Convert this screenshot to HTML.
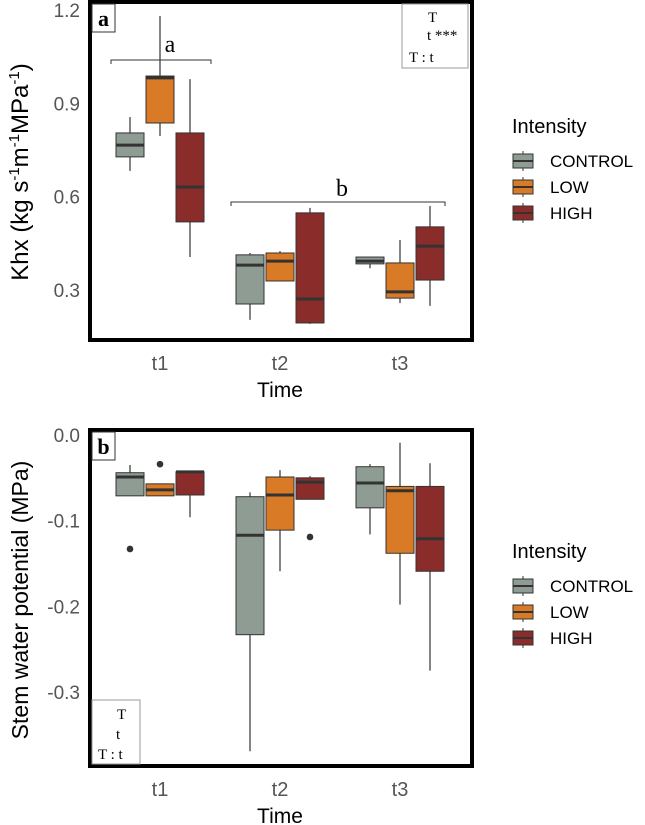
<!DOCTYPE html>
<html><head><meta charset="utf-8"><style>
body{margin:0;background:#fff}
svg{display:block;font-family:"Liberation Sans",sans-serif}
</style></head><body>
<svg id="chart" width="645" height="825" viewBox="0 0 645 825"></svg>
<script>
const categories=["t1","t2","t3"];
const groups=["CONTROL","LOW","HIGH"];
const colors=["#8e9c93","#d97b26","#8a2d2a"];
// [min,q1,median,q3,max] per category per group
const khxStats=[
 [[0.683,0.728,0.766,0.805,0.856],[0.795,0.837,0.982,0.988,1.181],[0.406,0.519,0.631,0.805,0.978]],
 [[0.204,0.255,0.380,0.413,0.419],[0.329,0.329,0.393,0.419,0.425],[0.191,0.194,0.271,0.548,0.564]],
 [[0.370,0.384,0.393,0.406,0.406],[0.258,0.274,0.294,0.387,0.461],[0.249,0.332,0.441,0.503,0.570]]
];
const khxOutliers=[[[],[],[]],[[],[],[]],[[],[],[]]];
const swpStats=[
 [[-0.071,-0.071,-0.049,-0.044,-0.035],[-0.071,-0.071,-0.064,-0.057,-0.057],[-0.096,-0.070,-0.043,-0.043,-0.043]],
 [[-0.369,-0.233,-0.117,-0.072,-0.067],[-0.159,-0.111,-0.070,-0.049,-0.041],[-0.075,-0.075,-0.055,-0.050,-0.048]],
 [[-0.116,-0.085,-0.056,-0.037,-0.034],[-0.198,-0.138,-0.065,-0.060,-0.009],[-0.275,-0.159,-0.121,-0.060,-0.033]]
];
const swpOutliers=[[[-0.133],[-0.034],[]],[[],[],[-0.119]],[[],[],[]]];
const khxTicks=[0.3,0.6,0.9,1.2];
const swpTicks=[0.0,-0.1,-0.2,-0.3];

const svg=document.getElementById('chart');
const NS="http://www.w3.org/2000/svg";
function mk(tag,attrs,parent,text){const e=document.createElementNS(NS,tag);for(const k in attrs)e.setAttribute(k,attrs[k]);if(text!==undefined)e.textContent=text;(parent||svg).appendChild(e);return e;}
function xScale(ci,gi){return 160+ci*120+(gi-1)*30;}

function panel(o){
  const g=mk('g',{});
  
  
  const y=v=>o.y0-(v-o.v0)*o.k;
  o.ticks.forEach(t=>{
    const tx=mk('text',{x:80,y:y(t)+7,'text-anchor':'end','font-size':19,fill:'#555'},g,t.toFixed(1));
    
    
  });
  categories.forEach((c,ci)=>{
    const tx=mk('text',{x:xScale(ci,1),y:o.bottom+30,'text-anchor':'middle','font-size':20,fill:'#555'},g,c);
    
    
    groups.forEach((gr,gi)=>{
      const s=o.stats[ci][gi];const cx=xScale(ci,gi);
      const bg=mk('g',{},g);
      
      
      mk('line',{x1:cx,x2:cx,y1:y(s[4]),y2:y(s[0]),stroke:'#333','stroke-width':1.2},bg);
      mk('rect',{x:cx-14,y:y(s[3]),width:28,height:Math.max(1,y(s[1])-y(s[3])),fill:colors[gi],stroke:'#333','stroke-width':1},bg);
      mk('line',{x1:cx-14,x2:cx+14,y1:y(s[2]),y2:y(s[2]),stroke:'#333','stroke-width':3},bg);
      o.outl[ci][gi].forEach(v=>{
        const p=mk('circle',{cx:cx,cy:y(v),r:3.3,fill:'#333'},bg);
        
        
      });
    });
  });
  const fr=mk('rect',{x:90,y:o.top,width:382,height:o.bottom-o.top,fill:'none',stroke:'#000','stroke-width':4},g);
  
  
  mk('rect',{x:92,y:o.top+2,width:23,height:28,fill:'#fff',stroke:'#333','stroke-width':1},g);
  mk('text',{x:103.5,y:o.top+24,'text-anchor':'middle','font-size':22,'font-weight':'bold','font-family':'Liberation Serif,serif'},g,o.letter);
  const xt=mk('text',{x:280,y:o.bottom+57,'text-anchor':'middle','font-size':21},g,'Time');
  
  
  return {g,y};
}

const A=panel({name:'panel-a-khx',top:2,bottom:340,y0:290,v0:0.3,k:311,ticks:khxTicks,stats:khxStats,outl:khxOutliers,letter:'a'});
const yta=mk('text',{transform:'translate(28,172) rotate(-90)','text-anchor':'middle','font-size':24},A.g);
yta.innerHTML='Khx (kg s<tspan dy="-9" font-size="15">-1</tspan><tspan dy="9">m</tspan><tspan dy="-9" font-size="15">-1</tspan><tspan dy="9">MPa</tspan><tspan dy="-9" font-size="15">-1</tspan><tspan dy="9">)</tspan>';


const sf='Liberation Serif,serif';
mk('path',{d:'M111,64 V60 H211 V64',fill:'none',stroke:'#333','stroke-width':1},A.g);
mk('text',{x:170,y:52,'text-anchor':'middle','font-size':24,'font-family':sf},A.g,'a');
mk('path',{d:'M231,206 V202 H445 V206',fill:'none',stroke:'#333','stroke-width':1},A.g);
mk('text',{x:342,y:196,'text-anchor':'middle','font-size':24,'font-family':sf},A.g,'b');
mk('rect',{x:402,y:4,width:66,height:64,fill:'#fff',stroke:'#999','stroke-width':1},A.g);
mk('text',{x:428,y:22,'font-size':15,'font-family':sf},A.g,'T');
mk('text',{x:427,y:40,'font-size':15,'font-family':sf},A.g,'t ***');
mk('text',{x:409,y:62,'font-size':15,'font-family':sf},A.g,'T : t');

const B=panel({name:'panel-b-swp',top:430,bottom:766,y0:435,v0:0,k:857,ticks:swpTicks,stats:swpStats,outl:swpOutliers,letter:'b'});
const ytb=mk('text',{transform:'translate(28,600) rotate(-90)','text-anchor':'middle','font-size':23},B.g,'Stem water potential (MPa)');


mk('rect',{x:92,y:700,width:48,height:64,fill:'#fff',stroke:'#999','stroke-width':1},B.g);
mk('text',{x:117,y:719,'font-size':15,'font-family':sf},B.g,'T');
mk('text',{x:116,y:739,'font-size':15,'font-family':sf},B.g,'t');
mk('text',{x:98,y:759,'font-size':15,'font-family':sf},B.g,'T : t');

function legend(top){
  const g=mk('g',{});
  
  
  mk('text',{x:512,y:top,'font-size':20},g,'Intensity');
  groups.forEach((gr,i)=>{
    const cy=top+28+i*26;
    const e=mk('g',{},g);
    
    
    mk('line',{x1:523,x2:523,y1:cy-10,y2:cy+10,stroke:'#333'},e);
    mk('rect',{x:513,y:cy-7,width:20,height:14,fill:colors[i],stroke:'#333'},e);
    mk('line',{x1:513,x2:533,y1:cy,y2:cy,stroke:'#333','stroke-width':2},e);
    mk('text',{x:550,y:cy+6,'font-size':17},e,gr);
  });
}
legend(133);legend(558);
</script>
</body></html>
